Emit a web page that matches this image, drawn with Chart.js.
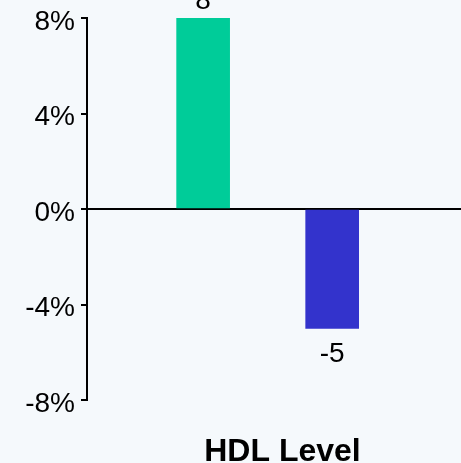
<!DOCTYPE html>
<html>
<head>
<meta charset="utf-8">
<script src="https://cdn.jsdelivr.net/npm/chart.js@4.4.1/dist/chart.umd.min.js"></script>
<style>
  html, body { margin: 0; padding: 0; overflow: hidden; background: #f5f9fc; }
  #wrap { width: 490px; height: 471px; }
</style>
</head>
<body>
<div id="wrap"><canvas id="hdlChart" width="490" height="471"></canvas></div>
<script>
// HDL change per group (%)
const groups = ['Treatment', 'Control'];
const groupPos = [1, 2];
const hdlChange = [8, -5];
const barColors = ['#00CC99', '#3333CC'];
const yTicks = [-8, -4, 0, 4, 8];

const FONT = '"Liberation Sans", Arial, sans-serif';

// value printed above positive bars, below negative ones
const valueLabels = {
    id: 'valueLabels',
    afterDatasetsDraw(chart) {
        const ctx = chart.ctx;
        const meta = chart.getDatasetMeta(0);
        ctx.save();
        ctx.font = '28px ' + FONT;
        ctx.fillStyle = '#000';
        ctx.textAlign = 'center';
        ctx.textBaseline = 'alphabetic';
        meta.data.forEach((bar, i) => {
            const v = hdlChange[i];
            const y = v >= 0 ? bar.y - 9 : bar.y + 34;
            ctx.fillText(String(v), bar.x, y);
        });
        ctx.restore();
    }
};

const config = {
    type: 'bar',
    data: {
        labels: groups,
        datasets: [{
            label: 'HDL change',
            data: groupPos.map((x, i) => ({ x: x, y: hdlChange[i] })),
            backgroundColor: barColors,
            borderWidth: 0,
            barThickness: 53
        }]
    },
    options: {
        responsive: false,
        animation: false,
        devicePixelRatio: 1,
        layout: { padding: { top: 18, right: 12, left: 0, bottom: 0 } },
        plugins: {
            legend: { display: false },
            tooltip: { enabled: false }
        },
        scales: {
            x: {
                type: 'linear',
                offset: false,
                min: 0.1,
                max: 3.13,
                grid: { display: false },
                border: { display: false },
                ticks: { display: false },
                title: {
                    display: true,
                    text: 'HDL Level',
                    color: '#000',
                    font: { family: FONT, size: 32, weight: 'bold' },
                    padding: 0
                },
                afterFit: (scale) => { scale.height = 71; }
            },
            y: {
                min: -8,
                max: 8,
                afterBuildTicks: (scale) => {
                    scale.ticks = yTicks.map(v => ({ value: v }));
                },
                afterFit: (scale) => {
                    scale.width = 87;
                    scale.paddingTop = 0;
                    scale.paddingBottom = 0;
                },
                ticks: {
                    color: '#000',
                    padding: 6,
                    labelOffset: 4,
                    font: { family: FONT, size: 28 },
                    callback: (v) => v + '%'
                },
                grid: {
                    drawTicks: true,
                    tickLength: 6,
                    tickColor: '#000',
                    lineWidth: 2,
                    color: (c) => (c.tick && c.tick.value === 0) ? '#000' : 'rgba(0,0,0,0)'
                },
                border: { display: true, color: '#000', width: 2 }
            }
        }
    },
    plugins: [valueLabels]
};

const hdlChart = new Chart(document.getElementById('hdlChart'), config);
</script>
</body>
</html>
